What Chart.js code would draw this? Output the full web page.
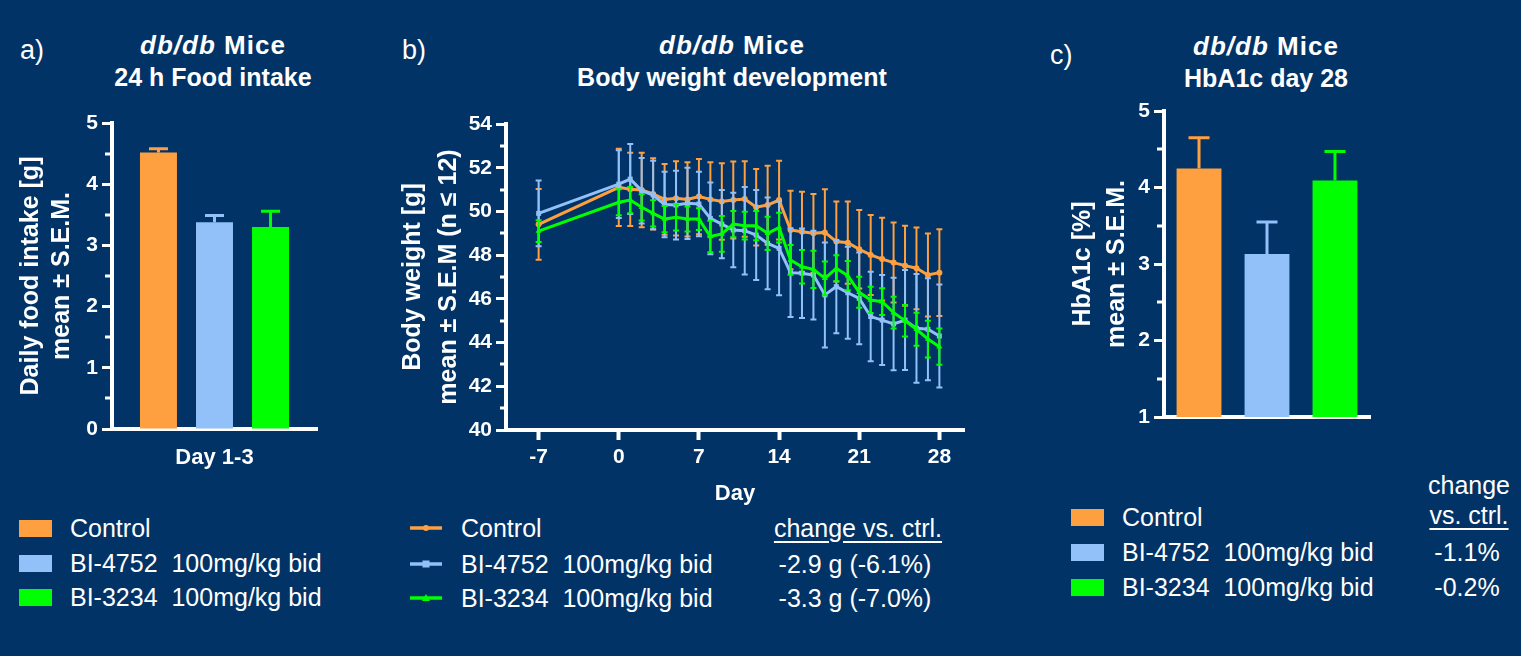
<!DOCTYPE html>
<html>
<head>
<meta charset="utf-8">
<script src="https://cdn.jsdelivr.net/npm/chart.js@4"></script>
<style>
  body { margin: 0; width: 1521px; height: 656px; overflow: hidden; position: relative;
         background: #013366; color: #fff; font-family: "Liberation Sans", Arial, sans-serif; }
  canvas { position: absolute; top: 0; }
  .tag { position: absolute; font-size: 27px; line-height: 30px; }
  .t1, .t2 { position: absolute; width: 360px; text-align: center; font-weight: bold; white-space: nowrap; }
  .t1 { font-size: 26px; line-height: 32px; letter-spacing: 1px; }
  .t2 { font-size: 25px; line-height: 30px; }
  .row { position: absolute; font-size: 25px; line-height: 30px; white-space: pre; }
  .col { position: absolute; width: 200px; text-align: center; font-size: 25px; line-height: 30px; white-space: pre; }
  .sw { position: absolute; width: 33px; height: 17px; }
  .u { text-decoration: underline; text-underline-offset: 4px; }
</style>
</head>
<body>
<div class="tag" style="left:20px;top:35px">a)</div>
<div class="tag" style="left:402px;top:35px">b)</div>
<div class="tag" style="left:1050px;top:40px">c)</div>

<div class="t1" style="left:33px;top:29px"><i>db/db</i> Mice</div>
<div class="t2" style="left:33px;top:62px">24 h Food intake</div>
<div class="t1" style="left:552px;top:29px"><i>db/db</i> Mice</div>
<div class="t2" style="left:552px;top:62px">Body weight development</div>
<div class="t1" style="left:1086px;top:30px"><i>db/db</i> Mice</div>
<div class="t2" style="left:1086px;top:63px">HbA1c day 28</div>

<canvas id="chartA" width="340" height="480" style="left:0px"></canvas>
<canvas id="chartB" width="600" height="510" style="left:380px"></canvas>
<canvas id="chartC" width="370" height="450" style="left:1030px"></canvas>

<div id="legends"></div>

<script>
// groups shared by all three panels
const groups = ['Control', 'BI-4752  100mg/kg bid', 'BI-3234  100mg/kg bid'];
const groupColors = ['#ffa040', '#92c0f8', '#00ff00'];

// a) 24 h food intake, day 1-3
const foodCategory = ['Day 1-3'];
const foodIntake = [4.52, 3.38, 3.30];
const foodSem = [0.06, 0.11, 0.26];

// c) HbA1c day 28
const hba1c = [4.25, 3.13, 4.09];
const hba1cSem = [0.40, 0.42, 0.38];
const hba1cChange = ['', '-1.1%', '-0.2%'];

// b) body weight development
const days = [-7, 0, 1, 2, 3, 4, 5, 6, 7, 8, 9, 10, 11, 12, 13, 14, 15, 16, 17, 18, 19, 20, 21, 22, 23, 24, 25, 26, 27, 28];
const dayTicks = [-7, 0, 7, 14, 21, 28];
const bwControl = [49.41, 51.10, 51.01, 50.98, 50.80, 50.55, 50.60, 50.55, 50.68, 50.55, 50.45, 50.52, 50.57, 50.19, 50.29, 50.52,
                   49.15, 49.07, 49.00, 49.04, 48.62, 48.57, 48.27, 48.01, 47.82, 47.66, 47.52, 47.40, 47.09, 47.20];
const bwControlSem = [1.62, 1.77, 1.68, 1.70, 1.63, 1.62, 1.70, 1.70, 1.72, 1.70, 1.75, 1.76, 1.73, 1.75, 1.80, 1.80,
                      1.80, 1.83, 1.80, 1.98, 1.83, 1.88, 1.80, 1.83, 1.89, 1.83, 1.83, 1.87, 1.90, 1.98];
const bw4752 = [49.91, 51.25, 51.48, 50.95, 50.75, 50.32, 50.29, 50.37, 50.34, 49.68, 49.42, 49.15, 49.12, 48.92, 48.54, 48.31,
                47.20, 47.17, 47.09, 46.18, 46.56, 46.28, 46.02, 45.19, 45.03, 44.85, 45.03, 44.65, 44.61, 44.30];
const bw4752Sem = [1.50, 1.55, 1.60, 1.50, 1.57, 1.50, 1.57, 1.63, 1.48, 1.64, 1.56, 1.70, 2.00, 2.06, 2.10, 2.14,
                   2.03, 2.05, 2.03, 2.40, 2.13, 2.10, 2.10, 2.05, 2.06, 2.12, 2.29, 2.49, 2.33, 2.36];
const bw3234 = [49.10, 50.42, 50.52, 50.19, 49.91, 49.65, 49.73, 49.65, 49.65, 48.85, 48.97, 49.42, 49.35, 49.35, 49.00, 49.26,
                47.78, 47.47, 47.35, 46.94, 47.40, 47.06, 46.30, 45.95, 45.87, 45.37, 45.00, 44.61, 44.16, 43.81];
const bw3234Sem = [0.50, 0.60, 0.60, 0.60, 0.60, 0.60, 0.60, 0.57, 0.50, 0.72, 0.82, 0.60, 0.64, 0.67, 0.76, 0.68,
                   0.68, 0.77, 0.85, 0.77, 0.60, 0.67, 0.71, 0.60, 0.61, 0.73, 0.72, 0.76, 0.84, 0.83];
const bwChange = ['', '-2.9 g (-6.1%)', '-3.3 g (-7.0%)'];

Chart.defaults.font.family = '"Liberation Sans", Arial, sans-serif';
Chart.defaults.color = '#fff';

// mean ± SEM whiskers, drawn right after each dataset so the layering follows the datasets
const errorBars = {
  id: 'errorBars',
  afterDatasetDraw(chart, args) {
    const ds = chart.data.datasets[args.index];
    if (!ds.sem) return;
    const ys = chart.scales.y;
    const ctx = chart.ctx;
    ctx.save();
    ctx.strokeStyle = ds.borderColor || ds.backgroundColor;
    ctx.lineWidth = ds.errWidth;
    ctx.beginPath();
    args.meta.data.forEach((el, i) => {
      const raw = ds.data[i];
      const v = typeof raw === 'object' ? raw.y : raw;
      const top = ys.getPixelForValue(v + ds.sem[i]);
      const bot = ds.upperOnly ? el.y : ys.getPixelForValue(v - ds.sem[i]);
      ctx.moveTo(el.x, top);
      ctx.lineTo(el.x, bot);
      ctx.moveTo(el.x - ds.capHalf, top);
      ctx.lineTo(el.x + ds.capHalf, top);
      if (!ds.upperOnly) {
        ctx.moveTo(el.x - ds.capHalf, bot);
        ctx.lineTo(el.x + ds.capHalf, bot);
      }
    });
    ctx.stroke();
    ctx.restore();
  }
};

// short ticks half way between the labelled y ticks
const minorTicks = {
  id: 'minorTicks',
  afterDraw(chart, args, opts) {
    const s = chart.scales.y;
    const ctx = chart.ctx;
    ctx.save();
    ctx.strokeStyle = '#fff';
    ctx.lineWidth = opts.width || 3;
    ctx.beginPath();
    for (let i = 1; i < s.ticks.length; i++) {
      const y = Math.round(s.getPixelForValue((s.ticks[i - 1].value + s.ticks[i].value) / 2));
      ctx.moveTo(s.right - (opts.length || 6), y);
      ctx.lineTo(s.right, y);
    }
    ctx.stroke();
    ctx.restore();
  }
};

function yAxis(min, max, step, width, title, lineHeight, titlePad) {
  return {
    min: min, max: max,
    ticks: { stepSize: step, color: '#fff', font: { size: 21, weight: 'bold' }, padding: 4 },
    grid: { drawOnChartArea: false, drawTicks: true, tickLength: 10, tickWidth: 3, tickColor: '#fff' },
    border: { color: '#fff', width: 4 },
    title: { display: true, text: title, color: '#fff',
             font: { size: 25, weight: 'bold', lineHeight: lineHeight }, padding: { top: titlePad, bottom: 0 } },
    afterFit: s => { s.width = width; }
  };
}

const common = {
  responsive: false,
  animation: false,
  events: [],
};

// a) food intake
new Chart(document.getElementById('chartA'), {
  type: 'bar',
  data: {
    labels: foodCategory,
    datasets: groups.map((g, i) => ({
      label: g, data: [foodIntake[i]], sem: [foodSem[i]], backgroundColor: groupColors[i],
      upperOnly: true, errWidth: 3, capHalf: 9.5
    }))
  },
  options: Object.assign({}, common, {
    layout: { padding: { left: 0, top: 123, right: 23, bottom: 0 } },
    datasets: { bar: { categoryPercentage: 0.82, barPercentage: 0.66 } },
    plugins: { legend: { display: false }, tooltip: { enabled: false }, minorTicks: { length: 7, width: 3 } },
    scales: {
      x: {
        grid: { display: false, drawTicks: false },
        border: { color: '#fff', width: 4 },
        ticks: { color: '#fff', font: { size: 22, weight: 'bold' }, padding: 16 },
        afterFit: s => { s.height = 51; }
      },
      y: yAxis(0, 5, 1, 112, ['Daily food intake [g]', 'mean ± S.E.M.'], '31px', 15.5)
    }
  }),
  plugins: [errorBars, minorTicks]
});

// b) body weight
const markerStyles = ['circle', 'rect', 'triangle'];
const markerSizes = [3, 3.5, 3.5];
const bwMeans = [bwControl, bw4752, bw3234];
const bwSems = [bwControlSem, bw4752Sem, bw3234Sem];
new Chart(document.getElementById('chartB'), {
  type: 'line',
  data: {
    datasets: groups.map((g, i) => ({
      label: g,
      data: days.map((d, k) => ({ x: d, y: bwMeans[i][k] })),
      sem: bwSems[i],
      borderColor: groupColors[i], backgroundColor: groupColors[i],
      borderWidth: 3, pointStyle: markerStyles[i], pointRadius: markerSizes[i], pointBorderWidth: 0,
      order: 3 - i, errWidth: 2, capHalf: 3, tension: 0
    }))
  },
  options: Object.assign({}, common, {
    layout: { padding: { left: 0, top: 124, right: 16, bottom: 0 } },
    plugins: { legend: { display: false }, tooltip: { enabled: false }, minorTicks: { length: 6, width: 3 } },
    scales: {
      x: {
        type: 'linear', min: -9.85, max: 30.15,
        afterBuildTicks: s => { s.ticks = dayTicks.map(v => ({ value: v })); },
        ticks: { color: '#fff', font: { size: 21, weight: 'bold' }, padding: 5 },
        grid: { drawOnChartArea: false, drawTicks: true, tickLength: 10, tickWidth: 4, tickColor: '#fff' },
        border: { color: '#fff', width: 4 },
        title: { display: true, text: 'Day', color: '#fff', font: { size: 22, weight: 'bold' }, padding: { top: 0, bottom: 3 } },
        afterFit: s => { s.height = 80; }
      },
      y: yAxis(40, 54, 2, 126, ['Body weight [g]', 'mean ± S.E.M (n ≤ 12)'], '36px', 15)
    }
  }),
  plugins: [errorBars, minorTicks]
});

// c) HbA1c
new Chart(document.getElementById('chartC'), {
  type: 'bar',
  data: {
    labels: [''],
    datasets: groups.map((g, i) => ({
      label: g, data: [hba1c[i]], sem: [hba1cSem[i]], backgroundColor: groupColors[i],
      upperOnly: true, errWidth: 3, capHalf: 10.5
    }))
  },
  options: Object.assign({}, common, {
    layout: { padding: { left: 0, top: 111, right: 30, bottom: 0 } },
    datasets: { bar: { categoryPercentage: 0.99, barPercentage: 0.66 } },
    plugins: { legend: { display: false }, tooltip: { enabled: false }, minorTicks: { length: 7, width: 3 } },
    scales: {
      x: {
        grid: { display: false, drawTicks: false },
        border: { color: '#fff', width: 4 },
        ticks: { display: false },
        afterFit: s => { s.height = 33; }
      },
      y: yAxis(1, 5, 1, 134, ['HbA1c [%]', 'mean ± S.E.M.'], '34px', 36)
    }
  }),
  plugins: [errorBars, minorTicks]
});

// legends
const legendBox = document.getElementById('legends');
function add(html) { legendBox.insertAdjacentHTML('beforeend', html); }
const rowsA = [528, 563, 597];
const rowsB = [528, 564, 598];
const rowsC = [517, 552, 587];
const markerSvg = [
  '<circle cx="16" cy="7" r="3" fill="{c}"/>',
  '<rect x="12.5" y="3.5" width="7" height="7" fill="{c}"/>',
  '<polygon points="16,3 20,10 12,10" fill="{c}"/>'
];
groups.forEach((g, i) => {
  add(`<div class="sw" style="left:19px;top:${rowsA[i] - 8}px;background:${groupColors[i]}"></div>`);
  add(`<div class="row" style="left:70px;top:${rowsA[i] - 15}px">${g}</div>`);

  const svg = `<svg width="32" height="14" style="position:absolute;left:410px;top:${rowsB[i] - 7}px">` +
    `<line x1="0" y1="7" x2="32" y2="7" stroke="${groupColors[i]}" stroke-width="3.5"/>` +
    markerSvg[i].replace('{c}', groupColors[i]) + '</svg>';
  add(svg);
  add(`<div class="row" style="left:461px;top:${rowsB[i] - 15}px">${g}</div>`);
  if (bwChange[i]) add(`<div class="col" style="left:755px;top:${rowsB[i] - 15}px">${bwChange[i]}</div>`);

  add(`<div class="sw" style="left:1071px;top:${rowsC[i] - 8}px;background:${groupColors[i]}"></div>`);
  add(`<div class="row" style="left:1122px;top:${rowsC[i] - 15}px">${g}</div>`);
  if (hba1cChange[i]) add(`<div class="col" style="left:1367px;top:${rowsC[i] - 15}px">${hba1cChange[i]}</div>`);
});
add(`<div class="col" style="left:758px;top:${rowsB[0] - 15}px"><span class="u">change vs. ctrl.</span></div>`);
add(`<div class="col" style="left:1369px;top:470px">change</div>`);
add(`<div class="col" style="left:1369px;top:500px"><span class="u">vs. ctrl.</span></div>`);
</script>
</body>
</html>
